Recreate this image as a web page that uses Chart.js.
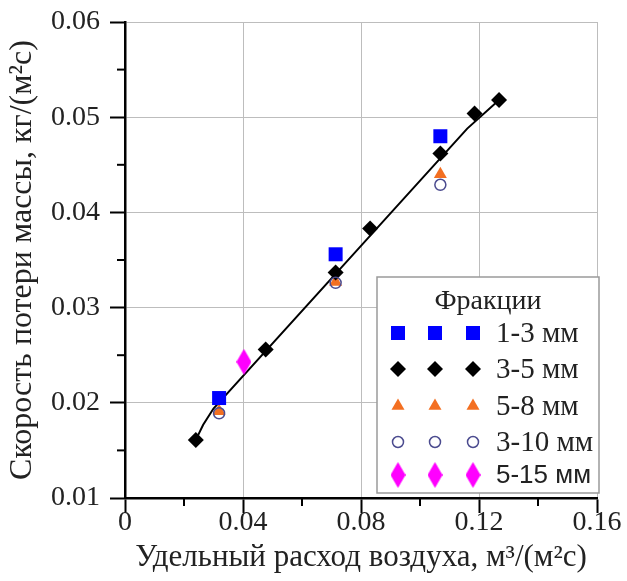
<!DOCTYPE html>
<html><head><meta charset="utf-8">
<script src="https://cdn.jsdelivr.net/npm/chart.js@4/dist/chart.umd.min.js"></script>
<style>html,body{margin:0;padding:0;background:#fff}</style>
</head><body>
<canvas id="c" width="627" height="581" style="display:block;width:627px;height:581px"></canvas>
<script>
// ---- data ----
const xTickLabels = ['0', '0.04', '0.08', '0.12', '0.16'];
const yTickLabels = ['0.01', '0.02', '0.03', '0.04', '0.05', '0.06'];
const seriesNames = ['1-3 мм', '3-5 мм', '5-8 мм', '3-10 мм', '5-15 мм'];
const legendTitle = 'Фракции';
const xTitle = 'Удельный расход воздуха, м³/(м²с)';
const yTitle = 'Скорость потери массы, кг/(м²с)';

const x13 = [0.0319, 0.0714, 0.1069];
const y13 = [0.0205, 0.0356, 0.0480];
const x35 = [0.0240, 0.0477, 0.0714, 0.0831, 0.1069, 0.1185, 0.1268];
const y35 = [0.0161, 0.0256, 0.0337, 0.0383, 0.0462, 0.0504, 0.0518];
const x58 = [0.0319, 0.0714, 0.1069];
const y58 = [0.0191, 0.0327, 0.0440];
const x310 = [0.0319, 0.0714, 0.1069];
const y310 = [0.0189, 0.0326, 0.0429];
const x515 = [0.0403];
const y515 = [0.0243];
const lineX = [0.0240, 0.0265, 0.0300, 0.1160, 0.1268];
const lineY = [0.0161, 0.0177, 0.0194, 0.0488, 0.0518];

const pts = (xs, ys) => xs.map((x, i) => ({x: x, y: ys[i]}));

// elongated magenta diamond
function makeTallDiamond(w, h, color) {
  const cv = document.createElement('canvas');
  cv.width = w; cv.height = h;
  const g = cv.getContext('2d');
  g.fillStyle = color;
  g.beginPath();
  g.moveTo(w / 2, 0); g.lineTo(w, h / 2); g.lineTo(w / 2, h); g.lineTo(0, h / 2);
  g.closePath(); g.fill();
  return cv;
}
const magentaDiamond = makeTallDiamond(15, 26, '#ff00ff');

const SERIF = '"Liberation Serif", "Times New Roman", serif';
const SANS = '"Liberation Sans", Arial, sans-serif';
const TXT = '#222';

// marker drawing for the legend (mirrors the dataset point styles)
function drawMarker(ctx, kind, x, y) {
  ctx.save();
  ctx.beginPath();
  if (kind === 0) { ctx.fillStyle = '#0000ff'; ctx.fillRect(x - 7, y - 7, 14, 14); }
  else if (kind === 1) { ctx.fillStyle = '#000'; ctx.moveTo(x - 8, y); ctx.lineTo(x, y - 8); ctx.lineTo(x + 8, y); ctx.lineTo(x, y + 8); ctx.closePath(); ctx.fill(); }
  else if (kind === 2) { const r = 7.5; ctx.fillStyle = '#f36f21'; ctx.moveTo(x, y - r); ctx.lineTo(x + 0.866 * r, y + 0.5 * r); ctx.lineTo(x - 0.866 * r, y + 0.5 * r); ctx.closePath(); ctx.fill(); }
  else if (kind === 3) { ctx.strokeStyle = '#4b4b8f'; ctx.lineWidth = 1.5; ctx.arc(x, y, 5.5, 0, Math.PI * 2); ctx.stroke(); }
  else if (kind === 4) { ctx.drawImage(magentaDiamond, x - magentaDiamond.width / 2, y - magentaDiamond.height / 2); }
  ctx.restore();
}

const customPlugin = {
  id: 'custom',
  afterDraw(chart) {
    const ctx = chart.ctx;
    const ca = chart.chartArea;
    const xs = chart.scales.x, ys = chart.scales.y;
    // minor ticks
    ctx.save();
    ctx.strokeStyle = '#000'; ctx.lineWidth = 2;
    xs.ticks.forEach((t, i) => {
      if (i % 2 === 1) { const px = xs.getPixelForValue(t.value); ctx.beginPath(); ctx.moveTo(px, ca.bottom); ctx.lineTo(px, ca.bottom + 8); ctx.stroke(); }
    });
    ys.ticks.forEach((t, i) => {
      if (i % 2 === 1) { const py = ys.getPixelForValue(t.value); ctx.beginPath(); ctx.moveTo(ca.left, py); ctx.lineTo(ca.left - 8, py); ctx.stroke(); }
    });
    ctx.restore();
    // legend
    const L = 377, T = 277, R = ca.right + 2, B = ca.bottom - 5;
    ctx.save();
    ctx.fillStyle = '#fff';
    ctx.fillRect(L, T, R - L, B - T);
    ctx.strokeStyle = '#9a9a9a'; ctx.lineWidth = 1.5;
    ctx.strokeRect(L, T, R - L, B - T);
    ctx.fillStyle = TXT;
    ctx.textBaseline = 'middle';
    ctx.textAlign = 'center';
    ctx.font = '28px ' + SERIF;
    ctx.fillText(legendTitle, 488, 302);
    const rowsY = [333, 369, 406, 442, 475];
    const mx = [398, 435, 473];
    ctx.textAlign = 'left';
    seriesNames.forEach((name, k) => {
      mx.forEach(x => drawMarker(ctx, k, x, rowsY[k]));
      ctx.font = (k === 4 ? '26px ' + SANS : '29px ' + SERIF);
      ctx.fillStyle = TXT;
      ctx.fillText(name, 496, rowsY[k] + 1);
    });
    ctx.restore();
  }
};

new Chart(document.getElementById('c'), {
  type: 'scatter',
  data: {
    datasets: [
      { label: seriesNames[3], data: pts(x310, y310), pointStyle: 'circle', pointRadius: 5.5, borderColor: '#4b4b8f', borderWidth: 1.5, backgroundColor: 'rgba(0,0,0,0)' },
      { label: seriesNames[0], data: pts(x13, y13), pointStyle: 'rect', pointRadius: 9.9, backgroundColor: '#0000ff', borderWidth: 0 },
      { label: seriesNames[1], data: pts(x35, y35), pointStyle: 'rectRot', pointRadius: 8, backgroundColor: '#000', borderWidth: 0 },
      { label: seriesNames[2], data: pts(x58, y58), pointStyle: 'triangle', pointRadius: 7.5, backgroundColor: '#f36f21', borderWidth: 0 },
      { label: seriesNames[4], data: pts(x515, y515), pointStyle: magentaDiamond, pointRadius: 8, backgroundColor: '#ff00ff', borderWidth: 0 },
      { label: 'fit', type: 'line', data: pts(lineX, lineY), borderColor: '#000', borderWidth: 2, pointRadius: 0, showLine: true, fill: false, tension: 0 }
    ]
  },
  options: {
    responsive: false,
    animation: false,
    events: [],
    layout: { padding: { left: 0, top: 22, right: 30, bottom: 0 } },
    plugins: { legend: { display: false }, tooltip: { enabled: false } },
    scales: {
      x: {
        type: 'linear', min: 0, max: 0.16,
        afterFit: s => { s.height = 83; s.paddingLeft = 0; s.paddingRight = 0; },
        ticks: {
          stepSize: 0.02, autoSkip: false, maxRotation: 0, padding: -7,
          color: TXT, font: { family: SERIF, size: 28 },
          callback: (v, i) => (i % 2 === 0 ? xTickLabels[i / 2] : '')
        },
        grid: {
          color: c => (c.index % 2 === 0 ? '#bdbdbd' : 'rgba(0,0,0,0)'),
          lineWidth: 1, drawTicks: true, tickLength: 15, tickWidth: 2,
          tickColor: c => (c.index % 2 === 0 ? '#000' : 'rgba(0,0,0,0)')
        },
        border: { display: true, color: '#000', width: 2.5 },
        title: { display: true, text: xTitle, color: TXT, font: { family: SERIF, size: 31 }, padding: { top: 0, bottom: 5 } }
      },
      y: {
        type: 'linear', min: 0.01, max: 0.06,
        afterFit: s => { s.width = 125; s.paddingTop = 0; s.paddingBottom = 0; },
        ticks: {
          stepSize: 0.005, autoSkip: false, padding: 10,
          color: TXT, font: { family: SERIF, size: 28 },
          callback: (v, i) => (i % 2 === 0 ? yTickLabels[i / 2] : '')
        },
        grid: {
          color: c => (c.index % 2 === 0 ? '#bdbdbd' : 'rgba(0,0,0,0)'),
          lineWidth: 1, drawTicks: true, tickLength: 15, tickWidth: 2,
          tickColor: c => (c.index % 2 === 0 ? '#000' : 'rgba(0,0,0,0)')
        },
        border: { display: true, color: '#000', width: 2.5 },
        title: { display: true, text: yTitle, color: TXT, font: { family: SERIF, size: 32 }, padding: { top: 3, bottom: 0 } }
      }
    }
  },
  plugins: [customPlugin]
});
</script>
</body></html>
